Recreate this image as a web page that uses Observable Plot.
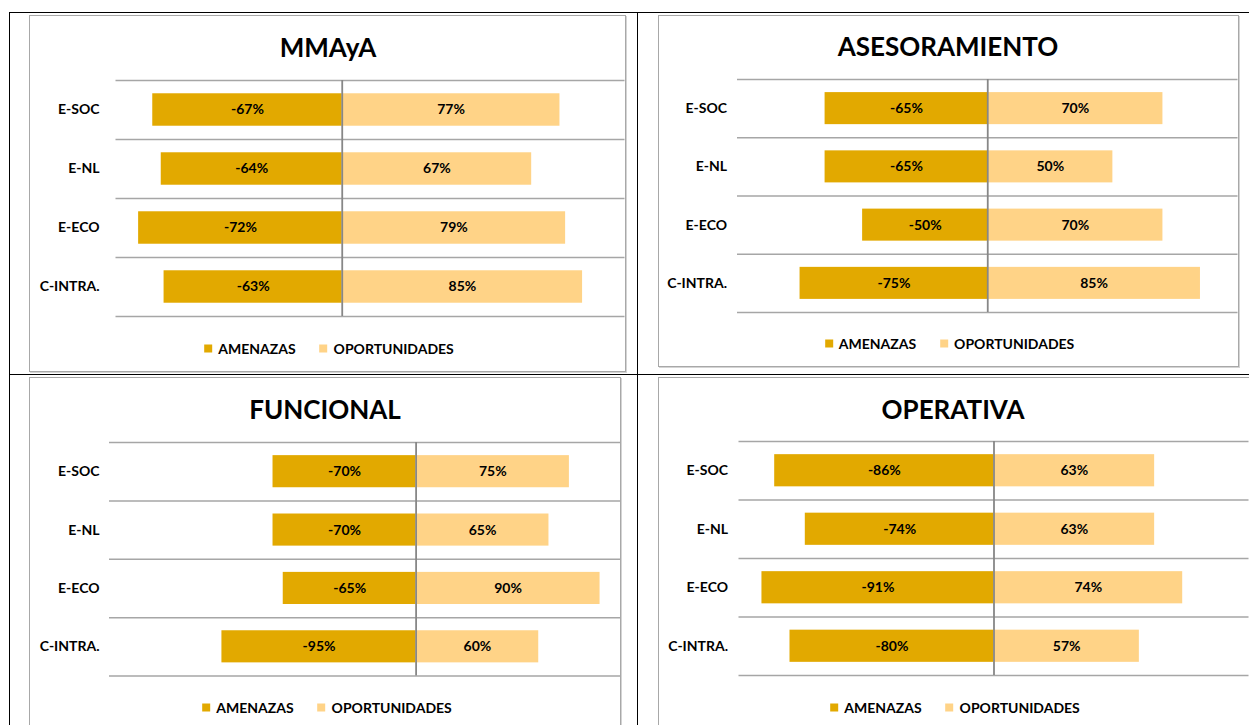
<!DOCTYPE html>
<html>
<head>
<meta charset="utf-8">
<script src="https://cdn.jsdelivr.net/npm/d3@7"></script>
<script src="https://cdn.jsdelivr.net/npm/@observablehq/plot@0.6"></script>
<style>
  html, body { margin: 0; padding: 0; background: #fff; }
  #page { position: relative; width: 1249px; height: 725px; overflow: hidden; background: #fff; font-family: Lato, "Open Sans", sans-serif; }
  .line { position: absolute; background: #000; }
  .box { position: absolute; box-sizing: border-box; border: 1.5px solid #A8A8A8; box-shadow: 1px 1px 0 #D4D4D4; }
  .title { position: absolute; font-weight: bold; font-size: 26px; color: #000; white-space: nowrap; transform: translate(-50%, -50%); line-height: 1; }
  .legend { position: absolute; display: flex; align-items: center; gap: 24px; transform: translate(-50%, -50%); font-weight: bold; font-size: 14px; color: #000; white-space: nowrap; }
  .legend .item { display: flex; align-items: center; }
  .legend .sw { width: 8px; height: 8px; margin-right: 6px; }
  .chart { position: absolute; }
  .chart svg { max-width: none !important; display: block; }
</style>
</head>
<body>
<div id="page"></div>
<script>
// ---- Data ----
const categories = ["E-SOC", "E-NL", "E-ECO", "C-INTRA."];
const series = ["AMENAZAS", "OPORTUNIDADES"];
const titles = ["MMAyA", "ASESORAMIENTO", "FUNCIONAL", "OPERATIVA"];
const amenazasMMAyA = [-67, -64, -72, -63];
const oportunidadesMMAyA = [77, 67, 79, 85];
const amenazasAses = [-65, -65, -50, -75];
const oportunidadesAses = [70, 50, 70, 85];
const amenazasFunc = [-70, -70, -65, -95];
const oportunidadesFunc = [75, 65, 90, 60];
const amenazasOper = [-86, -74, -91, -80];
const oportunidadesOper = [63, 63, 74, 57];
const xDomains = [[-80, 100], [-100, 100], [-150, 100], [-100, 100]];

// ---- Styles / layout ----
const colors = ["#E2A900", "#FFD387"];
const layouts = [
  {box: {l: 29, t: 15, r: 626, b: 372}, plot: {x0: 115.5, x1: 624.5, y0: 80, y1: 316}, pad: 16.5, titleX: 328, titleY: 46.5, legX: 329, legY: 348},
  {box: {l: 657.5, t: 15, r: 1238.5, b: 367}, plot: {x0: 736.5, x1: 1237, y0: 79, y1: 312}, pad: 10.5, titleX: 948, titleY: 46, legX: 949.5, legY: 343},
  {box: {l: 29, t: 376.5, r: 621, b: 745}, plot: {x0: 109, x1: 620, y0: 441.5, y1: 675}, pad: 10, titleX: 325, titleY: 409, legX: 327, legY: 707},
  {box: {l: 657.5, t: 376.5, r: 1256, b: 745}, plot: {x0: 738, x1: 1248, y0: 441, y1: 675}, pad: 11, titleX: 953, titleY: 409, legX: 955, legY: 707}
];
const seriesData = [
  [amenazasMMAyA, oportunidadesMMAyA],
  [amenazasAses, oportunidadesAses],
  [amenazasFunc, oportunidadesFunc],
  [amenazasOper, oportunidadesOper]
];

const page = document.getElementById("page");

// table lines
function line(l, t, w, h) {
  const d = document.createElement("div");
  d.className = "line";
  Object.assign(d.style, {left: l + "px", top: t + "px", width: w + "px", height: h + "px"});
  page.appendChild(d);
}
line(8.5, 11.5, 1250, 1.5);
line(8.5, 373.5, 1250, 1.5);
line(8.5, 11.5, 1.5, 720);
line(636.5, 11.5, 1.5, 720);

const gridPositions = d3.range(categories.length + 1).map(k => k - 0.5);
const half = 0.275;

layouts.forEach((L, k) => {
  const box = document.createElement("div");
  box.className = "box";
  Object.assign(box.style, {left: L.box.l + "px", top: L.box.t + "px", width: (L.box.r - L.box.l) + "px", height: (L.box.b - L.box.t) + "px"});
  page.appendChild(box);

  const t = document.createElement("div");
  t.className = "title";
  t.textContent = titles[k];
  Object.assign(t.style, {left: L.titleX + "px", top: L.titleY + "px"});
  page.appendChild(t);

  const [amen, oport] = seriesData[k];
  const data = [];
  categories.forEach((c, i) => {
    data.push({i, c, serie: series[0], v: amen[i]});
    data.push({i, c, serie: series[1], v: oport[i]});
  });

  const mTop = 20, mBottom = 20;
  const width = L.box.r - L.box.l;
  const height = (L.plot.y1 - L.plot.y0) + mTop + mBottom;
  const svg = Plot.plot({
    width, height,
    marginLeft: L.plot.x0 - L.box.l,
    marginRight: L.box.r - L.plot.x1,
    marginTop: mTop, marginBottom: mBottom,
    style: {fontFamily: "Lato, 'Open Sans', sans-serif", fontSize: "14px", fontWeight: "bold", color: "#000", background: "transparent", overflow: "visible"},
    x: {domain: xDomains[k], axis: null},
    y: {domain: [-0.5, categories.length - 0.5], reverse: true, axis: null},
    color: {domain: series, range: colors},
    marks: [
      Plot.ruleY(gridPositions, {stroke: "#A6A6A6", strokeWidth: 1.5}),
      Plot.rectX(data, {x1: 0, x2: "v", y1: d => d.i - half, y2: d => d.i + half, fill: "serie"}),
      Plot.ruleX([0], {stroke: "#878787", strokeWidth: 1.8}),
      Plot.text(data, {x: d => d.v / 2, y: "i", text: d => d.v + "%", fill: "#000"}),
      Plot.axisY({ticks: d3.range(categories.length), tickFormat: i => categories[i], tickSize: 0, tickPadding: L.pad, fill: "#000", label: null})
    ]
  });
  const wrap = document.createElement("div");
  wrap.className = "chart";
  Object.assign(wrap.style, {left: L.box.l + "px", top: (L.plot.y0 - mTop) + "px", width: width + "px", height: height + "px"});
  wrap.appendChild(svg);
  page.appendChild(wrap);

  const leg = document.createElement("div");
  leg.className = "legend";
  Object.assign(leg.style, {left: L.legX + "px", top: L.legY + "px"});
  series.forEach((s, j) => {
    const it = document.createElement("div");
    it.className = "item";
    const sw = document.createElement("div");
    sw.className = "sw";
    sw.style.background = colors[j];
    const lb = document.createElement("span");
    lb.textContent = s;
    it.appendChild(sw); it.appendChild(lb);
    leg.appendChild(it);
  });
  page.appendChild(leg);
});
</script>
</body>
</html>
